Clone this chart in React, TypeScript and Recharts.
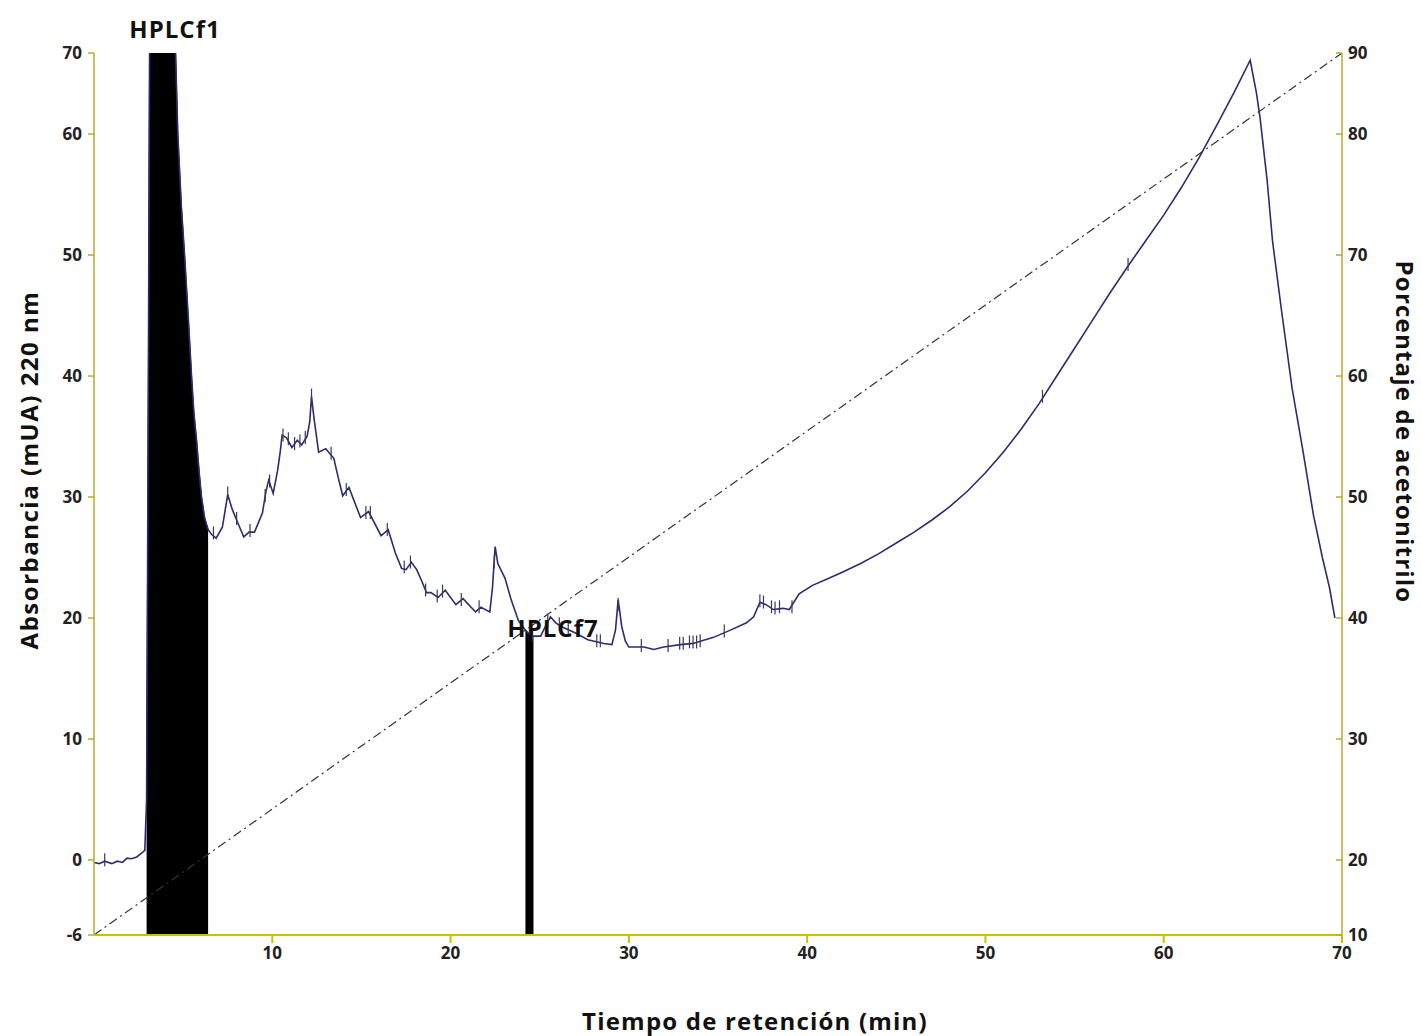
import { ComposedChart, Line, Area, Scatter, XAxis, YAxis } from "recharts";

// retention time (min) and absorbance (mUA, 220 nm)
const times = [
  0.0, 0.3, 0.6, 1.0, 1.3, 1.6, 1.85, 2.1, 2.4, 2.7, 2.85, 2.95, 3.05, 3.15, 4.4, 4.55, 4.7, 4.9, 5.08, 5.3,
  5.47, 5.6, 5.75, 5.9, 6.03, 6.2, 6.4, 6.6, 6.85, 7.2, 7.5, 7.75, 8.0, 8.4, 8.7, 9.0, 9.2, 9.45, 9.65, 9.8,
  10.05, 10.3, 10.45, 10.55, 10.8, 11.1, 11.4, 11.65, 11.95, 12.1, 12.2, 12.35, 12.6, 13.0, 13.45, 13.7, 13.95, 14.3, 14.95, 15.4,
  16.1, 16.5, 16.9, 17.25, 17.5, 17.8, 18.1, 18.4, 18.65, 18.9, 19.3, 19.7, 20.3, 20.7, 21.4, 21.7, 22.2, 22.35, 22.5, 22.65,
  23.05, 23.4, 23.8, 24.2, 24.45, 24.65, 25.05, 25.35, 25.6, 25.9, 26.2, 26.95, 27.7, 28.6, 29.05, 29.25, 29.4, 29.6, 29.8, 30.0,
  30.85, 31.4, 31.95, 32.9, 33.6, 34.75, 35.7, 36.6, 37.0, 37.35, 37.7, 38.1, 38.65, 39.0, 39.55, 40.3, 41.25, 42, 43, 44,
  45, 46, 47, 48, 49, 50, 51, 52, 53, 54, 55, 56, 57, 58, 59, 60, 61, 62, 63, 64,
  64.85, 65.2, 65.4, 65.8, 66.1, 66.6, 67.2, 67.8, 68.4, 68.9, 69.3, 69.6,
];
const absorbance = [
  -0.2, -0.3, -0.1, -0.3, -0.1, -0.2, 0.15, 0.1, 0.25, 0.6, 0.8, 5, 40, 80, 80, 68, 60, 54, 50, 44.5,
  40, 37, 34.7, 32, 30, 28.3, 27.3, 26.9, 26.6, 27.5, 30.2, 29, 28.1, 26.7, 27.1, 27.1, 27.8, 28.7, 30.5, 31.4,
  30.3, 32.2, 33.8, 35.1, 34.9, 34.1, 34.7, 34.3, 35, 36.2, 38.3, 36.4, 33.7, 34, 33.2, 31.6, 30.1, 30.8, 28.3, 28.8,
  26.8, 27.3, 25.4, 24.1, 24, 24.6, 24, 23, 22.1, 22.1, 21.7, 22.3, 21.1, 21.6, 20.5, 20.9, 20.5, 22.5, 25.9, 24.5,
  23.3, 21.5, 19.8, 19, 18.6, 18.5, 18.5, 19.4, 20.1, 19.6, 19.3, 18.8, 18.2, 17.9, 17.8, 19, 21.5, 19.3, 18.1, 17.6,
  17.6, 17.4, 17.6, 17.8, 17.9, 18.4, 19, 19.6, 20.1, 21.3, 21.1, 20.7, 20.8, 20.7, 22.0, 22.7, 23.3, 23.8, 24.5, 25.3,
  26.2, 27.1, 28.1, 29.2, 30.5, 32.0, 33.7, 35.6, 37.7, 40.0, 42.3, 44.6, 46.9, 49.1, 51.2, 53.3, 55.6, 58.1, 60.8, 63.6,
  66.1, 63.4, 61.4, 56.2, 51.2, 45.5, 39, 33.9, 28.5, 25, 22.5, 20,
];

// collected fractions (start, end in min)
const fractionF1 = [2.95, 6.4];
const fractionF7 = [24.2, 24.65];

// acetonitrile gradient, ends at the corners of the plot
const gradientTimes = [0, 70];
const gradientPct = [13.8, 86.7];

// small event marks along the trace
const markTimes = [
  0.6, 6.7, 7.5, 8.0, 8.75, 9.6, 9.85, 10.6, 10.9, 11.25, 11.55, 11.85, 12.2, 13.3, 14.15, 15.25, 15.5, 16.45, 17.4, 17.75,
  18.6, 19.25, 19.55, 20.6, 21.6, 22.45, 24.6, 25.45, 26.1, 26.6, 28.2, 28.4, 29.4, 30.7, 32.2, 32.85, 33.05, 33.4, 33.6, 33.8,
  34.0, 35.35, 37.35, 37.55, 38.0, 38.2, 38.45, 39.15, 53.2, 58.0,
];
const markValues = [
  -0.1, 26.9, 30.2, 28.1, 27.1, 30, 31.2, 35, 34.7, 34.3, 34.5, 34.8, 38.3, 33.5, 30.5, 28.6, 28.6, 27.2, 24.1, 24.5,
  22.2, 21.7, 22.1, 21.4, 20.8, 24.5, 18.5, 19.7, 19.4, 19, 18, 18, 21, 17.6, 17.6, 17.8, 17.8, 17.9, 17.9, 17.9,
  18, 18.8, 21.3, 21.2, 20.8, 20.7, 20.8, 20.8, 38.2, 49.1,
];

// axis ticks (the outer labels sit at the ends of the plot)
const xTicks = [10, 20, 30, 40, 50, 60, 70];
const leftTicks = [-6.2, 0, 10, 20, 30, 40, 50, 60, 66.7];
const leftTickLabels = ["-6", "0", "10", "20", "30", "40", "50", "60", "70"];
const rightTicks = [13.8, 20, 30, 40, 50, 60, 70, 80, 86.7];
const rightTickLabels = ["10", "20", "30", "40", "50", "60", "70", "80", "90"];

const inRange = (t: number, r: number[]) => t >= r[0] && t <= r[1];

const data = times.map((t, i) => ({
  t,
  abs: absorbance[i],
  f1: inRange(t, fractionF1) ? absorbance[i] : null,
  f7: inRange(t, fractionF7) ? absorbance[i] : null,
}));
const gradient = gradientTimes.map((t, i) => ({ t, pct: gradientPct[i] }));
const marks = markTimes.map((t, i) => ({ t, v: markValues[i] }));

const axisColor = "#b3ad2c";
const xAxisColor = "#c9c200";
const tickStyle = { fontSize: 17, fontWeight: 700, fill: "#222" };

const RightTick = (props: any) => {
  const { x, y, payload } = props;
  const i = rightTicks.indexOf(payload.value);
  return (
    <g>
      <line x1={x - 12} x2={x - 6} y1={y} y2={y} stroke={axisColor} strokeWidth={1.5} />
      <text x={x} y={y} dy="0.35em" textAnchor="start" {...tickStyle}>
        {rightTickLabels[i]}
      </text>
    </g>
  );
};

const Mark = (props: any) => {
  const { cx, cy } = props;
  return <line x1={cx} x2={cx} y1={cy - 8} y2={cy + 5} stroke="#3a3a55" strokeWidth={1.2} />;
};

const labelStyle: React.CSSProperties = {
  position: "absolute",
  fontWeight: 700,
  color: "#111",
  whiteSpace: "nowrap",
  transform: "translate(-50%, -50%)",
};

export default function App() {
  return (
    <div
      style={{
        position: "absolute",
        left: 0,
        top: 0,
        width: 1421,
        height: 1036,
        background: "#fff",
        fontFamily: "'Open Sans', sans-serif",
      }}
    >
      <ComposedChart width={1421} height={1036} data={data} margin={{ top: 53, right: 0, bottom: 0, left: 0 }}>
        <XAxis
          dataKey="t"
          type="number"
          domain={[0, 70]}
          ticks={xTicks}
          allowDataOverflow
          height={101}
          stroke={xAxisColor}
          strokeWidth={2}
          tickSize={8}
          tickMargin={4}
          tick={tickStyle}
        />
        <YAxis
          yAxisId="abs"
          type="number"
          domain={[-6.2, 66.7]}
          ticks={leftTicks}
          tickFormatter={(v: number) => leftTickLabels[leftTicks.indexOf(v)]}
          allowDataOverflow
          width={94}
          stroke={axisColor}
          strokeWidth={1.5}
          tickSize={6}
          tickMargin={6}
          tick={tickStyle}
        />
        <YAxis
          yAxisId="pct"
          orientation="right"
          type="number"
          domain={[13.8, 86.7]}
          ticks={rightTicks}
          allowDataOverflow
          width={79}
          stroke={axisColor}
          strokeWidth={1.5}
          tickLine={false}
          tickSize={0}
          tickMargin={6}
          tick={<RightTick />}
        />
        <Line
          yAxisId="pct"
          data={gradient}
          dataKey="pct"
          stroke="#333"
          strokeWidth={1.2}
          strokeDasharray="9 4 2 4"
          dot={false}
          isAnimationActive={false}
        />
        <Line
          yAxisId="abs"
          dataKey="abs"
          stroke="#2c2c70"
          strokeWidth={1.6}
          dot={false}
          isAnimationActive={false}
        />
        <Area
          yAxisId="abs"
          dataKey="f1"
          baseValue="dataMin"
          stroke="#000"
          strokeWidth={1}
          fill="#000"
          fillOpacity={1}
          isAnimationActive={false}
        />
        <Area
          yAxisId="abs"
          dataKey="f7"
          baseValue="dataMin"
          stroke="#000"
          strokeWidth={1}
          fill="#000"
          fillOpacity={1}
          isAnimationActive={false}
        />
        <Scatter yAxisId="abs" data={marks} dataKey="v" shape={<Mark />} isAnimationActive={false} />
      </ComposedChart>

      <div style={{ ...labelStyle, left: 175, top: 28, fontSize: 24, letterSpacing: 1 }}>HPLCf1</div>
      <div style={{ ...labelStyle, left: 553, top: 627, fontSize: 24, letterSpacing: 1 }}>HPLCf7</div>
      <div style={{ ...labelStyle, left: 755, top: 1020, fontSize: 24, letterSpacing: 1.2 }}>
        Tiempo de retención (min)
      </div>
      <div
        style={{
          ...labelStyle,
          left: 28,
          top: 470,
          fontSize: 24,
          letterSpacing: 1.5,
          transform: "translate(-50%, -50%) rotate(-90deg)",
        }}
      >
        Absorbancia (mUA) 220 nm
      </div>
      <div
        style={{
          ...labelStyle,
          left: 1405,
          top: 432,
          fontSize: 24,
          letterSpacing: 1.2,
          transform: "translate(-50%, -50%) rotate(90deg)",
        }}
      >
        Porcentaje de acetonitrilo
      </div>
    </div>
  );
}
